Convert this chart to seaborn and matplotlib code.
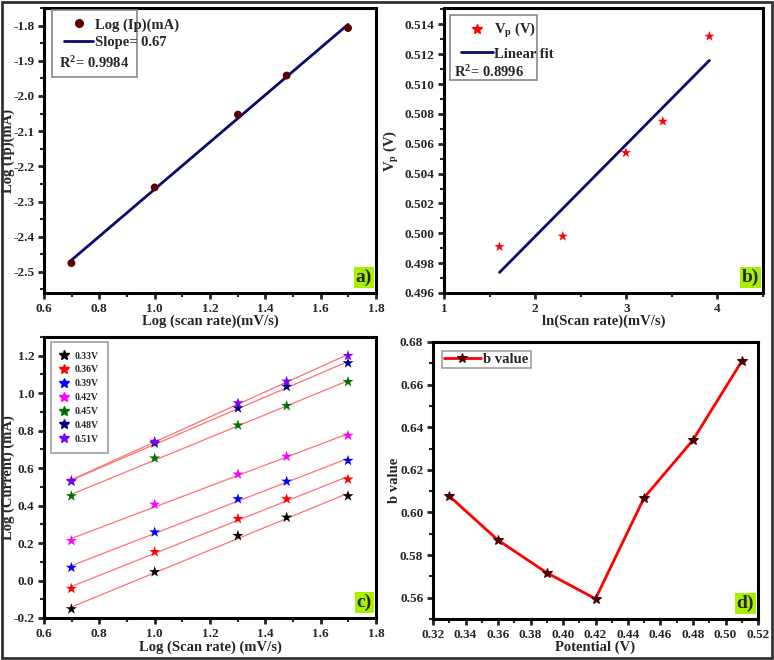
import numpy as np
import pandas as pd
import seaborn as sns
import matplotlib.pyplot as plt
from matplotlib.patches import Rectangle
from matplotlib.lines import Line2D
from matplotlib.ticker import MultipleLocator

# panel a: log(Ip) vs log(scan rate)
log_scan = [0.699, 1.000, 1.301, 1.477, 1.699]
log_ip = [-2.475, -2.260, -2.053, -1.942, -1.807]

# panel b: Vp vs ln(scan rate)
ln_scan = [1.609, 2.303, 2.996, 3.401, 3.912]
vp = [0.4991, 0.4998, 0.5054, 0.5075, 0.5132]

# panel c: log(current) at each potential
pot_labels = ["0.33V", "0.36V", "0.39V", "0.42V", "0.45V", "0.48V", "0.51V"]
pot_colors = ["black", "red", "blue", "magenta", "#007000", "#000080", "#8000ff"]
cur_033 = [-0.152, 0.046, 0.239, 0.337, 0.451]
cur_036 = [-0.043, 0.153, 0.330, 0.435, 0.540]
cur_039 = [0.069, 0.258, 0.435, 0.529, 0.640]
cur_042 = [0.212, 0.406, 0.567, 0.662, 0.774]
cur_045 = [0.451, 0.653, 0.829, 0.933, 1.061]
cur_048 = [0.529, 0.733, 0.920, 1.035, 1.161]
cur_051 = [0.533, 0.742, 0.947, 1.063, 1.200]
currents = [cur_033, cur_036, cur_039, cur_042, cur_045, cur_048, cur_051]

# panel d: b value vs potential
b_potential = [0.33, 0.36, 0.39, 0.42, 0.45, 0.48, 0.51]
b_value = [0.6077, 0.5870, 0.5717, 0.5595, 0.6070, 0.6340, 0.6710]

sns.set_style("ticks")
plt.rcParams["font.family"] = ["Liberation Serif", "DejaVu Serif"]
plt.rcParams["font.weight"] = "bold"
plt.rcParams["axes.labelweight"] = "bold"
plt.rcParams["axes.unicode_minus"] = False
plt.rcParams["mathtext.fontset"] = "custom"
plt.rcParams["mathtext.rm"] = "Liberation Serif:bold"
plt.rcParams["mathtext.it"] = "Liberation Serif:bold"
plt.rcParams["mathtext.bf"] = "Liberation Serif:bold"

W, H = 774, 660
FS = 10.5
fig = plt.figure(figsize=(W / 100, H / 100), dpi=100)


def px_axes(left, top, right, bottom):
    return fig.add_axes([left / W, 1 - bottom / H, (right - left) / W, (bottom - top) / H])


def style(ax, xmaj, xmin, ymaj, ymin, ylab_x, xlab_y):
    for s in ax.spines.values():
        s.set_linewidth(2.2)
        s.set_color("black")
    ax.xaxis.set_major_locator(MultipleLocator(xmaj))
    ax.xaxis.set_minor_locator(MultipleLocator(xmin))
    ax.yaxis.set_major_locator(MultipleLocator(ymaj))
    ax.yaxis.set_minor_locator(MultipleLocator(ymin))
    ax.tick_params(which="major", direction="out", length=4.5, width=2, labelsize=9.5, pad=2.5)
    ax.tick_params(which="minor", direction="out", length=3, width=1.5)
    ax.yaxis.set_label_coords(ylab_x, 0.5)
    ax.xaxis.set_label_coords(0.5, xlab_y)


def panel_tag(ax, s):
    ax.text(0.988, 0.025, s, transform=ax.transAxes, ha="right", va="bottom",
            fontsize=14, fontweight="bold",
            bbox=dict(boxstyle="square,pad=0.1", facecolor="#a8f000", edgecolor="none"))


def legend_box(ax, x0, y0, x1, y1):
    ax.add_patch(Rectangle((x0, y0), x1 - x0, y1 - y0, transform=ax.transAxes,
                           fill=False, edgecolor="#888888", linewidth=1.2, zorder=5))


# ---- a ----
ax = px_axes(44, 8, 376, 293)
k, b0 = np.polyfit(log_scan, log_ip, 1)
fx = np.array([min(log_scan), max(log_scan)])
sns.lineplot(x=fx, y=k * fx + b0, color="#0a0a6e", linewidth=2, ax=ax)
sns.scatterplot(x=log_scan, y=log_ip, color="#5a0000", s=32, edgecolor="none", ax=ax, zorder=3)
ax.set_xlim(0.6, 1.8)
ax.set_ylim(-2.56, -1.75)
ax.set_xlabel("Log (scan rate)(mV/s)", fontsize=FS)
ax.set_ylabel("Log (Ip)(mA)", fontsize=FS)
style(ax, 0.2, 0.1, 0.1, 0.05, -0.088, -0.075)
hs = [Line2D([], [], marker="o", color="#5a0000", linestyle="none", markersize=5.5),
      Line2D([], [], color="#0a0a6e", linewidth=2)]
ax.legend(hs, ["Log (Ip)(mA)", "Slope= 0.67"], loc="upper left", bbox_to_anchor=(0.03, 1.0),
          frameon=False, handlelength=2.0, handletextpad=0.1, labelspacing=0.3,
          borderpad=0.2, prop={"weight": "bold", "size": 10.5})
ax.text(0.045, 0.807, "R$^2$= 0.9984", transform=ax.transAxes, fontsize=10.5, fontweight="bold",
        va="center")
legend_box(ax, 0.024, 0.758, 0.279, 0.993)
panel_tag(ax, "a)")

# ---- b ----
ax = px_axes(444, 8, 763, 293)
k, b0 = np.polyfit(ln_scan, vp, 1)
fx = np.array([min(ln_scan), max(ln_scan)])
sns.lineplot(x=fx, y=k * fx + b0, color="#0a0a6e", linewidth=2, ax=ax)
sns.scatterplot(x=ln_scan, y=vp, color="red", marker="*", s=60, edgecolor="none", ax=ax, zorder=3)
ax.set_xlim(1, 4.5)
ax.set_ylim(0.496, 0.5151)
ax.set_xlabel("ln(Scan rate)(mV/s)", fontsize=FS)
ax.set_ylabel("V$_p$ (V)", fontsize=FS)
style(ax, 1, 0.5, 0.002, 0.001, -0.135, -0.075)
hs = [Line2D([], [], marker="*", color="red", linestyle="none", markersize=7),
      Line2D([], [], color="#0a0a6e", linewidth=2)]
ax.legend(hs, ["V$_p$ (V)", "Linear fit"], loc="upper left", bbox_to_anchor=(0.02, 0.99),
          frameon=False, handlelength=2.2, handletextpad=0.1, labelspacing=0.5,
          borderpad=0.2, prop={"weight": "bold", "size": 10.5})
ax.text(0.03, 0.775, "R$^2$= 0.8996", transform=ax.transAxes, fontsize=10.5, fontweight="bold",
        va="center")
legend_box(ax, 0.019, 0.747, 0.29, 0.975)
panel_tag(ax, "b)")

# ---- c ----
ax = px_axes(44, 337, 376, 618)
for lab, col, ys in zip(pot_labels, pot_colors, currents):
    k, b0 = np.polyfit(log_scan, ys, 1)
    fx = np.array([min(log_scan), max(log_scan)])
    sns.lineplot(x=fx, y=k * fx + b0, color="#ff7070", linewidth=0.9, ax=ax)
    sns.scatterplot(x=log_scan, y=ys, color=col, marker="*", s=70, edgecolor="none",
                    label=lab, ax=ax, zorder=3)
ax.set_xlim(0.6, 1.8)
ax.set_ylim(-0.2, 1.3)
ax.set_xlabel("Log (Scan rate) (mV/s)", fontsize=FS)
ax.set_ylabel("Log (Current) (mA)", fontsize=FS)
style(ax, 0.2, 0.1, 0.2, 0.1, -0.088, -0.08)
hs = [Line2D([], [], marker="*", color=c, linestyle="none", markersize=7.5) for c in pot_colors]
leg = ax.legend(hs, pot_labels, loc="upper left", bbox_to_anchor=(0.006, 1.0),
                frameon=True, fancybox=False, edgecolor="#888888", handlelength=0.8,
                handletextpad=0.6, labelspacing=0.5, borderpad=1.0,
                prop={"weight": "bold", "size": 7})
leg.get_frame().set_linewidth(1.2)
panel_tag(ax, "c)")

# ---- d ----
ax = px_axes(433, 342, 758, 619)
sns.lineplot(x=b_potential, y=b_value, color="red", linewidth=2, marker="*", markersize=7,
             markerfacecolor="#4a0000", markeredgecolor="#4a0000", label="b value", ax=ax)
ax.set_xlim(0.32, 0.52)
ax.set_ylim(0.55, 0.68)
ax.set_xlabel("Potential (V)", fontsize=FS)
ax.set_ylabel("b value", fontsize=FS)
style(ax, 0.02, 0.01, 0.02, 0.01, -0.10, -0.079)
leg = ax.legend(loc="upper left", bbox_to_anchor=(0.005, 0.995), frameon=True, fancybox=False,
                edgecolor="#888888", handlelength=2.5, handletextpad=0.2, borderpad=0.15,
                prop={"weight": "bold", "size": 10.5})
leg.get_frame().set_linewidth(1.2)
panel_tag(ax, "d)")

# outer border
fig.add_artist(Rectangle((0.002, 0.003), 0.996, 0.994, transform=fig.transFigure,
                         fill=False, edgecolor="#333333", linewidth=2))

# make sure every tick label is bold
fig.canvas.draw()
for a in fig.axes:
    for t in a.get_xticklabels() + a.get_yticklabels():
        t.set_fontweight("bold")

fig.savefig("out.png", dpi=100)
